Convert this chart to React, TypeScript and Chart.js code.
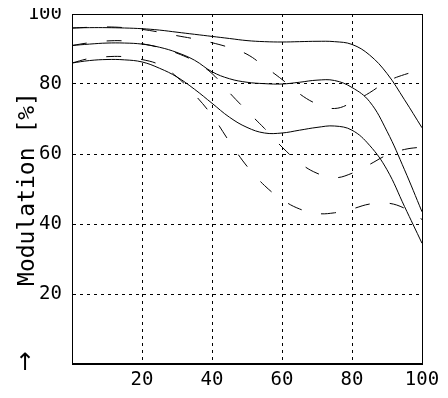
import React, { useEffect, useRef } from "react";
import { Chart, registerables } from "chart.js";

Chart.register(...registerables);

const xValues = [0, 5, 10, 15, 20, 25, 30, 35, 40, 45, 50, 55, 60, 65, 70, 75, 80, 85, 90, 95, 100];

const solidTop = [96, 96.1, 96.1, 96, 95.8, 95.4, 94.8, 94.2, 93.6, 93, 92.4, 92.1, 92, 92.1, 92.2, 92.1, 91.3, 88.3, 83, 75.5, 67.5];
const solidMid = [91, 91.4, 91.7, 91.7, 91.4, 90.5, 89, 86.8, 83.5, 81.5, 80.5, 80.1, 80, 80.5, 81.1, 81, 79, 75, 66.5, 55.5, 43.5];
const solidLow = [86, 86.7, 87, 86.9, 86.3, 84.5, 82, 78.5, 74.5, 70.5, 67.6, 66, 66, 66.8, 67.6, 68, 66.8, 62.5, 55.5, 45, 34.5];

const dashTop = [96, 96.2, 96.3, 96.1, 95.6, 94.8, 93.8, 92.9, 91.8, 90.4, 88.5, 85, 81.3, 77.2, 74.3, 73, 74.7, 77.5, 80.7, 82.7, 84];
const dashMid = [91, 91.8, 92.3, 92.3, 91.5, 90.4, 88.8, 86.5, 83, 77.5, 72.3, 67.3, 62, 57.5, 54.5, 53.2, 54.5, 57, 59.7, 61.3, 62];
const dashLow = [86, 87.3, 87.8, 87.8, 87, 85.5, 82, 77, 71, 63.5, 56.5, 51, 47, 44.3, 43, 43.2, 44.3, 45.7, 46, 44.5, 41.3];

const xTickValues = [20, 40, 60, 80, 100];
const yTickValues = [20, 40, 60, 80, 100];
const yTitle = "Modulation [%]";
const arrowText = "\u2191";

const toPoints = (ys: number[]) => ys.map((y, i) => ({ x: xValues[i], y }));

const frameAndArrow = {
  id: "frameAndArrow",
  afterDatasetsDraw(chart: any) {
    const { ctx, chartArea } = chart;
    ctx.save();
    ctx.strokeStyle = "#000";
    ctx.lineWidth = 1;
    ctx.setLineDash([]);
    ctx.strokeRect(chartArea.left + 0.5, chartArea.top + 0.5, chartArea.right - chartArea.left, chartArea.bottom - chartArea.top - 1);
    ctx.restore();
  },
  afterDraw(chart: any) {
    const { ctx } = chart;
    ctx.save();
    ctx.fillStyle = "#000";
    ctx.font = "24px 'DejaVu Sans'";
    ctx.textAlign = "center";
    ctx.textBaseline = "middle";
    ctx.fillText(arrowText, 17, 364);
    ctx.restore();
  },
};

const noPad = (s: any) => {
  s.paddingTop = 0;
  s.paddingBottom = 0;
  s.paddingLeft = 0;
  s.paddingRight = 0;
};

export default function App() {
  const ref = useRef<HTMLCanvasElement | null>(null);

  useEffect(() => {
    if (!ref.current) return;
    const mk = (data: number[], dashed: boolean) => ({
      data: toPoints(data),
      borderColor: "#000",
      borderWidth: 1,
      pointRadius: 0,
      fill: false,
      tension: 0.4,
      borderDash: dashed ? [15, 20] : [],
    });
    const tickFont = { family: "'DejaVu Sans Mono', monospace", size: 19 };
    const gridColor = (c: any) => (c.tick && (c.tick.value === 0 || c.tick.value === 100) ? "rgba(0,0,0,0)" : "#000");
    const chart = new Chart(ref.current, {
      type: "line",
      data: {
        datasets: [
          mk(solidTop, false),
          mk(solidMid, false),
          mk(solidLow, false),
          mk(dashTop, true),
          mk(dashMid, true),
          mk(dashLow, true),
        ],
      },
      options: {
        responsive: false,
        animation: false,
        layout: { padding: { top: 14, right: 18, left: 0, bottom: 0 } },
        plugins: { legend: { display: false }, tooltip: { enabled: false } },
        scales: {
          x: {
            type: "linear",
            min: 0,
            max: 100,
            afterFit: (s: any) => { s.height = 34; noPad(s); },
            afterBuildTicks: (s: any) => { s.ticks = [0, ...xTickValues].map((v) => ({ value: v })); },
            ticks: {
              color: "#000",
              font: tickFont,
              padding: 5,
              maxRotation: 0,
              autoSkip: false,
              callback: (v: any) => (v === 0 ? "" : String(v)),
            },
            grid: { color: gridColor, lineWidth: 1, drawTicks: false },
            border: { display: true, color: "#000", width: 1, dash: [3, 4] },
          },
          y: {
            type: "linear",
            min: 0,
            max: 100,
            afterFit: (s: any) => { s.width = 64; noPad(s); },
            afterBuildTicks: (s: any) => { s.ticks = [0, ...yTickValues].map((v) => ({ value: v })); },
            ticks: {
              color: "#000",
              font: tickFont,
              padding: 10,
              autoSkip: false,
              callback: (v: any) => (v === 0 ? "" : String(v)),
            },
            grid: { color: gridColor, lineWidth: 1, drawTicks: false },
            border: { display: true, color: "#000", width: 1, dash: [3, 4] },
            title: {
              display: true,
              text: yTitle,
              color: "#000",
              font: { family: "'DejaVu Sans Mono', monospace", size: 23 },
              padding: { top: 6, bottom: 0 },
            },
          },
        },
      },
      plugins: [frameAndArrow],
    });
    return () => chart.destroy();
  }, []);

  return (
    <div style={{ width: 432, height: 398, marginTop: -8 }}>
      <canvas ref={ref} width={432} height={398} style={{ display: "block" }} />
    </div>
  );
}
